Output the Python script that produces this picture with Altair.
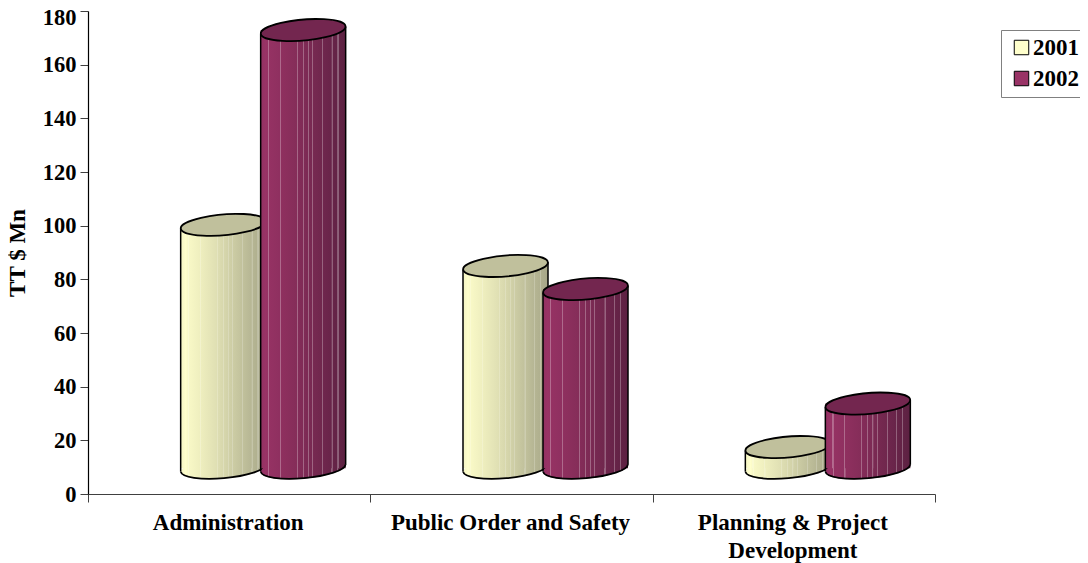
import altair as alt
import pandas as pd

categories = ["Administration", "Public Order and Safety", "Planning & Project Development"]
axis_labels = {
    "Administration": "Administration",
    "Public Order and Safety": "Public Order and Safety",
    "Planning & Project Development": "Planning & Project|Development",
}
values_2001 = [100.3, 85.0, 17.5]
values_2002 = [172.9, 76.4, 33.7]
floor_value = 9.6
skew = 1.3
y_ticks = [0, 20, 40, 60, 80, 100, 120, 140, 160, 180]

FONT = "Liberation Serif"
W, H = 847, 483
CW = 85
ELL_SIZE = CW * CW


def shade(c1, c2, t):
    a = [int(c1[i:i + 2], 16) for i in (1, 3, 5)]
    b = [int(c2[i:i + 2], 16) for i in (1, 3, 5)]
    return "#%02x%02x%02x" % tuple(round(p + (q - p) * t) for p, q in zip(a, b))


def cyl_gradient(left, mid, right, stripe_mix, stripes):
    def base(t):
        return shade(left, mid, t / 0.35) if t < 0.35 else shade(mid, right, (t - 0.35) / 0.65)
    stops = [alt.GradientStop(offset=0, color=shade(left, right, 0.12)),
             alt.GradientStop(offset=0.06, color=left)]
    for s in stripes:
        light = shade(base(s), "#ffffff", stripe_mix)
        stops += [alt.GradientStop(offset=s - 0.007, color=base(s - 0.007)),
                  alt.GradientStop(offset=s - 0.006, color=light),
                  alt.GradientStop(offset=s + 0.006, color=light),
                  alt.GradientStop(offset=s + 0.007, color=base(s + 0.007))]
    stops.append(alt.GradientStop(offset=1, color=right))
    return alt.Gradient(gradient="linear", x1=0, x2=1, y1=0, y2=0, stops=stops)


STRIPES = [0.09, 0.23, 0.43, 0.50, 0.56, 0.61, 0.73, 0.84, 0.91]
grad_2001 = cyl_gradient("#ffffcc", "#e6e6b8", "#a6a688", 0.2, STRIPES)
grad_2002 = cyl_gradient("#993366", "#8a2e5c", "#5c2142", 0.28, STRIPES)

ELLIPSE = "M-0.996,0.087 A1,0.24 -5 1 1 0.996,-0.087 A1,0.24 -5 1 1 -0.996,0.087 Z"
LOWER_ARC = "M-0.996,0.087 A1,0.24 -5 0 0 0.996,-0.087"

df = pd.DataFrame({
    "category": categories * 2,
    "year": ["2001"] * 3 + ["2002"] * 3,
    "value": values_2001 + values_2002,
})
df["floor"] = floor_value
df["left_top"] = df["value"] - skew
df["right_top"] = df["value"] + skew
df["left_floor"] = df["floor"] - skew
df["right_floor"] = df["floor"] + skew

label_map = "{" + ",".join(f"'{k}':'{v}'" for k, v in axis_labels.items()) + "}"

x = alt.X("category:N", sort=categories,
          scale=alt.Scale(domain=categories, paddingInner=0, paddingOuter=0),
          axis=alt.Axis(title=None, labelAngle=0, labelFont=FONT, labelFontWeight="bold",
                        labelFontSize=23, labelColor="black", labelPadding=9, tickSize=8,
                        tickColor="#404040", domainColor="#404040", tickBand="extent",
                        labelLimit=0, grid=False, labelLineHeight=28, labelOffset=-1.5,
                        labelExpr=f"isValid({label_map}[datum.label]) ? split({label_map}[datum.label], '|') : ''"))
y_axis = alt.Axis(title="TT $ Mn", values=y_ticks, labelFont=FONT, labelFontWeight="bold",
                  labelFontSize=22.5, labelColor="black", labelPadding=4, tickSize=8,
                  tickColor="#404040", domainColor="black", grid=False,
                  labelOffset={"condition": {"test": "datum.value == 180", "value": 6}, "value": 0},
                  titleFont=FONT, titleFontWeight="bold", titleFontSize=23,
                  titleColor="black", titlePadding=13)


def yy(field):
    return alt.Y(f"{field}:Q", scale=alt.Scale(domain=[0, 180], nice=False, zero=True), axis=y_axis)


def series_layers(year, grad, top_color, dx):
    d = alt.Chart(df).transform_filter(alt.datum.year == year)
    flat = d.mark_bar(width=CW - 6, xOffset=dx).encode(
        x=x, y=yy("value"), y2="floor:Q",
        fill=alt.Fill("year:N", scale=alt.Scale(domain=["2001", "2002"], range=["#ffffcc", "#993366"]),
                      legend=alt.Legend(title=None, orient="none", legendX=1001 - 88, legendY=30 - 11,
                                        labelFont=FONT, labelFontWeight="bold", labelFontSize=23,
                                        labelColor="black", symbolType="square", symbolSize=210,
                                        symbolStrokeColor="black", symbolStrokeWidth=1, symbolOpacity=1,
                                        strokeColor="#808080", fillColor="white", padding=6,
                                        rowPadding=7, symbolOffset=3, labelOffset=0)))
    base = d.mark_point(shape=ELLIPSE, size=ELL_SIZE, filled=True, fill=grad, strokeWidth=0,
                        opacity=1, xOffset=dx).encode(x=x, y=yy("floor"))
    body = d.mark_bar(width=CW, fill=grad, xOffset=dx).encode(x=x, y=yy("value"), y2="floor:Q")
    left = d.mark_rule(color="black", strokeWidth=1.5, xOffset=dx - CW / 2).encode(
        x=x, y=yy("left_top"), y2="left_floor:Q")
    right = d.mark_rule(color="black", strokeWidth=1.5, xOffset=dx + CW / 2).encode(
        x=x, y=yy("right_top"), y2="right_floor:Q")
    arc = d.mark_point(shape=LOWER_ARC, size=ELL_SIZE, filled=False, stroke="black",
                       strokeWidth=1.8, opacity=1, xOffset=dx).encode(x=x, y=yy("floor"))
    top = d.mark_point(shape=ELLIPSE, size=ELL_SIZE, filled=True, fill=top_color, stroke="black",
                       strokeWidth=1.8, opacity=1, xOffset=dx).encode(x=x, y=yy("value"))
    return [flat, base, body, left, right, arc, top]


chart = alt.layer(
    *series_layers("2001", grad_2001, "#c0c09c", -6),
    *series_layers("2002", grad_2002, "#73264f", 74),
).properties(
    width=W, height=H,
    autosize=alt.AutoSizeParams(type="none"),
    padding={"left": 80, "top": 3, "right": 145, "bottom": 70},
).configure_view(stroke=None).configure_axis(domainWidth=1.2, tickWidth=1)

chart.save("out.html", embed_options={"renderer": "svg", "actions": False})
